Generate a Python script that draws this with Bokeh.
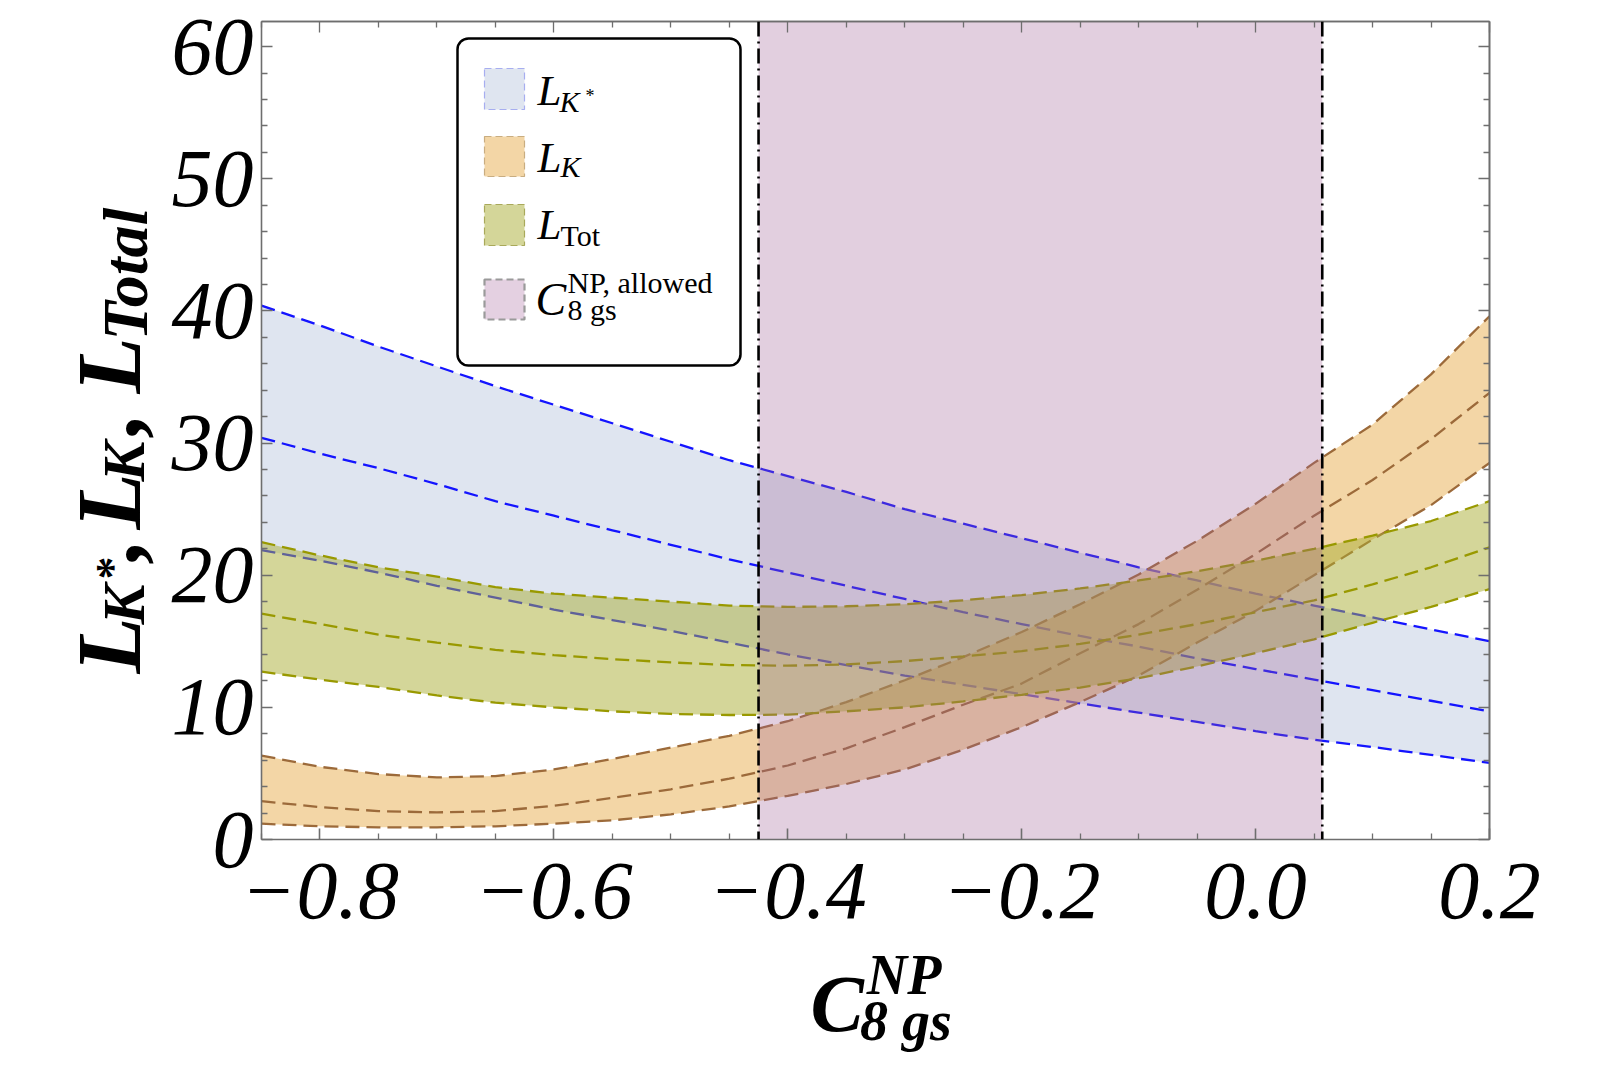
import math
from bokeh.plotting import figure
from bokeh.models import FixedTicker, Label, BoxAnnotation, Span, LinearAxis
from bokeh.layouts import row, column
from bokeh.embed import file_html
from bokeh.resources import INLINE

# ---------------- data ----------------
x = [-0.85, -0.80, -0.75, -0.70, -0.65, -0.60, -0.55, -0.50, -0.45, -0.40, -0.35,
     -0.30, -0.25, -0.20, -0.15, -0.10, -0.05, 0.00, 0.05, 0.10, 0.15, 0.20]

lkstar_upper = [40.4, 38.9, 37.3, 35.8, 34.3, 32.9, 31.5, 30.1, 28.7, 27.5, 26.3,
                25.0, 23.9, 22.8, 21.7, 20.6, 19.6, 18.6, 17.7, 16.8, 15.9, 15.0]
lkstar_mid = [30.4, 29.2, 28.1, 26.9, 25.6, 24.5, 23.4, 22.3, 21.2, 20.2, 19.2,
              18.2, 17.2, 16.3, 15.4, 14.6, 13.7, 12.9, 12.1, 11.3, 10.5, 9.7]
lkstar_lower = [21.9, 21.1, 20.2, 19.2, 18.3, 17.4, 16.6, 15.8, 14.9, 14.0, 13.2,
                12.4, 11.7, 11.0, 10.3, 9.6, 8.9, 8.2, 7.55, 7.0, 6.4, 5.8]

lk_upper = [6.35, 5.5, 4.95, 4.7, 4.8, 5.3, 6.1, 6.95, 7.85, 8.95, 10.4,
            12.05, 13.8, 15.7, 17.8, 20.05, 22.6, 25.4, 28.5, 31.4, 35.2, 39.6]
lk_mid = [2.9, 2.45, 2.15, 2.05, 2.15, 2.55, 3.15, 3.8, 4.6, 5.6, 6.9,
          8.5, 10.2, 11.8, 14.1, 16.3, 18.9, 21.6, 24.5, 27.2, 30.3, 33.8]
lk_lower = [1.2, 1.0, 0.92, 0.92, 1.0, 1.2, 1.45, 1.9, 2.5, 3.3, 4.2,
            5.3, 6.8, 8.5, 10.4, 12.4, 14.9, 17.3, 20.0, 22.7, 25.3, 28.5]

ltot_upper = [22.5, 21.5, 20.6, 19.9, 19.1, 18.6, 18.3, 18.0, 17.7, 17.6, 17.65,
              17.8, 18.1, 18.5, 19.0, 19.6, 20.3, 21.1, 22.0, 23.0, 24.1, 25.6]
ltot_mid = [17.1, 16.3, 15.5, 14.9, 14.35, 13.95, 13.65, 13.4, 13.2, 13.15, 13.25,
            13.5, 13.85, 14.25, 14.8, 15.5, 16.3, 17.2, 18.1, 19.3, 20.6, 22.1]
ltot_lower = [12.7, 12.1, 11.55, 10.9, 10.35, 10.0, 9.7, 9.5, 9.42, 9.45, 9.7,
              10.0, 10.45, 10.95, 11.5, 12.2, 13.1, 14.1, 15.15, 16.4, 17.6, 18.95]

allowed = [-0.425, 0.057]

x_ticks = [-0.8, -0.6, -0.4, -0.2, 0.0, 0.2]
x_tick_labels = ["\u22120.8", "\u22120.6", "\u22120.4", "\u22120.2", "0.0", "0.2"]
x_minor = [-0.85, -0.75, -0.7, -0.65, -0.55, -0.5, -0.45, -0.35, -0.3, -0.25,
           -0.15, -0.1, -0.05, 0.05, 0.1, 0.15]
y_ticks = [0, 10, 20, 30, 40, 50, 60]
y_tick_labels = ["0", "10", "20", "30", "40", "50", "60"]
y_minor = [v for v in range(0, 62, 2) if v % 10]

XMIN, XMAX = -0.85, 0.2
YMIN, YMAX = 0.0, 61.9

# ---------------- layout sizes (page pixels) ----------------
WY = 168                 # width of the strip holding the y-axis title
FW, FH = 1228, 818       # plot frame
MB_L, MB_T, MB_R, MB_B = 261 - WY, 21, 95, 112
MAIN_W = MB_L + FW + MB_R
MAIN_H = MB_T + FH + MB_B
XH = 110                 # height of the strip holding the x-axis title
OV = 40                  # the x-title strip is pulled up over the empty bottom border
TOTAL_H = MAIN_H + XH
K_BASE = 0.36            # label anchor sits this many em above the glyph baseline

p = figure(x_range=(XMIN, XMAX), y_range=(YMIN, YMAX),
           frame_width=FW, frame_height=FH,
           min_border_left=MB_L, min_border_top=MB_T,
           min_border_right=MB_R, min_border_bottom=MB_B,
           output_backend="svg", toolbar_location=None)
p.grid.visible = False
p.outline_line_color = None
p.background_fill_color = "white"
p.border_fill_color = "white"

AX_COL = "#6e6e6e"

def base_axis(ax):
    ax.axis_line_color = AX_COL
    ax.axis_line_width = 1.6
    ax.major_tick_line_color = AX_COL
    ax.minor_tick_line_color = AX_COL
    ax.major_tick_line_width = 1.6
    ax.minor_tick_line_width = 1.3
    ax.major_tick_out = 0
    ax.minor_tick_out = 0

def label_axis(ax, ticks, minor, labels, standoff):
    base_axis(ax)
    ax.ticker = FixedTicker(ticks=ticks, minor_ticks=minor)
    ax.major_tick_in = 11
    ax.minor_tick_in = 6
    ax.major_label_overrides = {float(t): l for t, l in zip(ticks, labels)}
    ax.major_label_text_font = "Liberation Serif"
    ax.major_label_text_font_style = "italic"
    ax.major_label_text_font_size = "82px"
    ax.major_label_text_color = "black"
    ax.major_label_standoff = standoff

label_axis(p.xaxis[0], x_ticks, x_minor, x_tick_labels, 24)
label_axis(p.yaxis[0], y_ticks, y_minor, y_tick_labels, 8)

# mirrored frame ticks (top / right) without labels
for side, ticks, minor in (("above", x_ticks, x_minor), ("right", y_ticks, y_minor)):
    for positions, length in ((ticks, 11), (minor, 6)):
        ax = LinearAxis()
        base_axis(ax)
        ax.ticker = FixedTicker(ticks=[], minor_ticks=positions)
        ax.minor_tick_in = length
        ax.major_tick_in = 0
        ax.major_label_standoff = 0
        p.add_layout(ax, side)

# ---------------- bands ----------------
DASH = "14 7"
bands = [
    (lkstar_lower, lkstar_mid, lkstar_upper, "#bfcbe1", "#1414ff"),
    (lk_lower, lk_mid, lk_upper, "#e7ad4d", "#9c6a3a"),
    (ltot_lower, ltot_mid, ltot_upper, "#a9ad33", "#999900"),
]
for lo, mid, up, fill, lc in bands:
    p.varea(x=x, y1=lo, y2=up, fill_color=fill, fill_alpha=0.5)
    for yy in (lo, mid, up):
        p.line(x, yy, line_color=lc, line_width=2.3, line_dash=DASH)

# allowed region
p.quad(left=[allowed[0]], right=[allowed[1]], bottom=[YMIN], top=[YMAX],
       fill_color="#a05f96", fill_alpha=0.3, line_color=None)
for a in allowed:
    p.add_layout(Span(location=a, dimension="height", line_color="black",
                      line_width=2.6, line_dash="15 5 2 5"))

# ---------------- text helpers ----------------
FL, FT = WY + MB_L, MB_T
def dx(px):
    return XMIN + (px - FL) / FW * (XMAX - XMIN)
def dy(py):
    return YMAX - (py - FT) / FH * (YMAX - YMIN)

def lab(fig, px, py, s, size, style="italic", angle=0.0, font="Liberation Serif"):
    fig.add_layout(Label(x=px, y=py, text=s, text_font=font,
                         text_font_style=style, text_font_size=f"{size}px",
                         text_color="black", text_baseline="alphabetic",
                         text_align="left", angle=angle))

def txt(px, py, s, size, style="italic"):
    # py is the wanted glyph baseline (page px)
    lab(p, dx(px), dy(py - K_BASE * size), s, size, style)

def htxt(fig, px, py, s, size, style="bold italic"):
    lab(fig, px, py - K_BASE * size, s, size, style)

def vtxt(fig, bx, py, s, size, style="bold italic"):
    # rotated text reading upward; bx is the wanted baseline x
    lab(fig, bx - K_BASE * size, py, s, size, style, math.pi / 2)

# ---------------- legend ----------------
p.add_layout(BoxAnnotation(left=dx(457), right=dx(740), top=dy(38), bottom=dy(365),
                           fill_color="white", fill_alpha=1.0, line_color="black",
                           line_alpha=1.0, line_width=2.5, border_radius=11))
swatches = [
    (68, 109, "#dfe5f0", "#a7aef0", 1.2),
    (136, 176, "#f3d6a6", "#c9ad80", 1.2),
    (204, 245, "#d4d699", "#a9a95a", 1.2),
    (279, 319, "#e4d0e1", "#9a9a9a", 2.2),
]
for top, bot, fc, lc, lw in swatches:
    p.add_layout(BoxAnnotation(left=dx(484), right=dx(524), top=dy(top), bottom=dy(bot),
                               fill_color=fc, fill_alpha=1.0, line_color=lc,
                               line_alpha=1.0, line_width=lw, line_dash="7 4"))
txt(537, 105, "L", 43)
txt(559, 112, "K", 30)
txt(585, 102, "*", 18, style="normal")
txt(537, 172, "L", 43)
txt(560, 177, "K", 30)
txt(537, 239, "L", 43)
txt(560, 246, "Tot", 30, style="normal")
txt(535, 316, "C", 46)
txt(567, 293, "NP, allowed", 30, style="normal")
txt(567, 320, "8 gs", 30, style="normal")

# ---------------- y-axis title strip (data coords = page pixels) ----------------
yfig = figure(width=WY, height=TOTAL_H, x_range=(0, WY), y_range=(TOTAL_H, 0),
              min_border=0, x_axis_location=None, y_axis_location=None,
              output_backend="svg", toolbar_location=None)
yfig.grid.visible = False
yfig.outline_line_color = None
BX = 142
vtxt(yfig, BX, 673, "L", 92)
vtxt(yfig, BX + 3, 624, "K", 60)
vtxt(yfig, 129, 579, "*", 46, "bold")
vtxt(yfig, BX, 561, ",", 92)
vtxt(yfig, BX, 529, "L", 92)
vtxt(yfig, BX + 3, 481, "K", 60)
vtxt(yfig, BX, 435, ",", 92)
vtxt(yfig, BX, 393, "L", 92)
vtxt(yfig, BX + 6, 340, "Total", 64)

# ---------------- x-axis title strip ----------------
xfig = figure(width=MAIN_W, height=XH + OV, x_range=(WY, WY + MAIN_W),
              y_range=(TOTAL_H, MAIN_H - OV), min_border=0,
              x_axis_location=None, y_axis_location=None,
              output_backend="svg", toolbar_location=None)
xfig.grid.visible = False
xfig.outline_line_color = None
xfig.background_fill_color = None
xfig.border_fill_color = None
xfig.margin = (-OV, 0, 0, 0)
htxt(xfig, 801, 1032, "C", 80)
htxt(xfig, 866, 995, "NP", 56)
htxt(xfig, 858, 1041, "8 gs", 56)

layout = row(yfig, column(p, xfig))
open("out.html", "w").write(file_html(layout, INLINE))
